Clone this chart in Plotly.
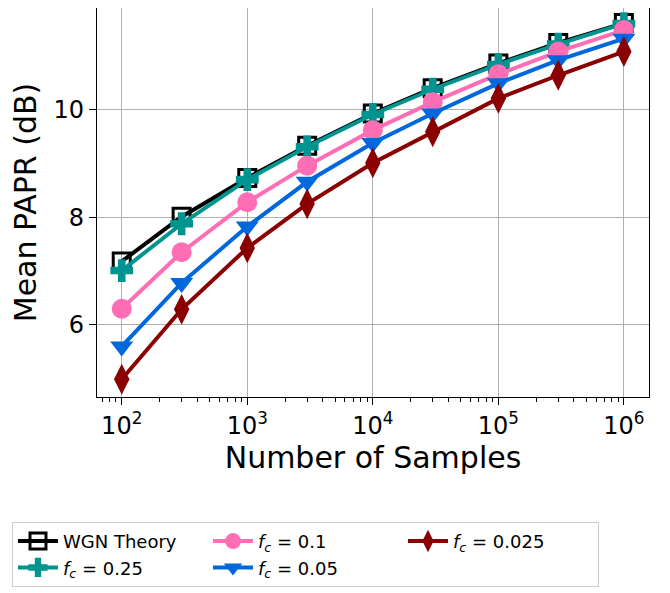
import plotly.graph_objects as go

samples = [100, 300, 1000, 3000, 10000, 30000, 100000, 300000, 1000000]
wgn = [7.18, 8.01, 8.73, 9.33, 9.93, 10.40, 10.86, 11.24, 11.61]
fc_025 = [7.01, 7.88, 8.70, 9.31, 9.91, 10.38, 10.84, 11.22, 11.60]
fc_01 = [6.30, 7.35, 8.28, 8.96, 9.62, 10.14, 10.66, 11.08, 11.48]
fc_005 = [5.60, 6.78, 7.83, 8.66, 9.38, 9.93, 10.49, 10.92, 11.32]
fc_0025 = [4.99, 6.29, 7.43, 8.25, 9.01, 9.59, 10.21, 10.64, 11.08]

xtick_vals = [100, 1000, 10000, 100000, 1000000]
xtick_text = ["10<sup>2</sup>", "10<sup>3</sup>", "10<sup>4</sup>", "10<sup>5</sup>", "10<sup>6</sup>"]
ytick_vals = [6, 8, 10]

minor_vals = [m * 10 ** e for e in range(1, 7) for m in range(2, 10)]

series = [
    ("WGN Theory", wgn, "black", "square-open", 17, 1),
    ("<i>f<sub>c</sub></i> = 0.25", fc_025, "#009490", "cross", 19, 4),
    ("<i>f<sub>c</sub></i> = 0.1", fc_01, "#ff6eb4", "circle", 20, 2),
    ("<i>f<sub>c</sub></i> = 0.05", fc_005, "#0068dc", "triangle-down", 20, 5),
    ("<i>f<sub>c</sub></i> = 0.025", fc_0025, "#8b0000", "diamond-tall", 22, 3),
]

fig = go.Figure()
for name, ys, color, sym, size, rank in series:
    marker = dict(symbol=sym, size=size, color=color)
    if sym == "square-open":
        marker["line"] = dict(width=3, color=color)
    fig.add_trace(go.Scatter(
        x=samples, y=ys, name=name, mode="lines+markers",
        line=dict(color=color, width=4), marker=marker, legendrank=rank,
    ))

axis_common = dict(
    showline=True, linecolor="black", linewidth=1.2, mirror=True,
    ticks="outside", ticklen=7, tickwidth=1.2, tickcolor="black",
    showgrid=True, gridcolor="#b0b0b0", gridwidth=1, zeroline=False,
    tickfont=dict(size=24, color="black", family="DejaVu Sans"),
    automargin=False,
)

fig.update_xaxes(
    type="log", range=[1.803, 6.2], tickvals=xtick_vals, ticktext=xtick_text,
    minor=dict(tickvals=minor_vals, ticks="outside", ticklen=4, tickcolor="black", showgrid=False),
    title=dict(text="Number of Samples", font=dict(size=30, color="black", family="DejaVu Sans"), standoff=8),
    **axis_common,
)
fig.update_yaxes(
    range=[4.66, 11.89], tickvals=ytick_vals,
    title=dict(text="Mean PAPR (dB)", font=dict(size=30, color="black", family="DejaVu Sans"), standoff=10),
    **axis_common,
)

fig.update_layout(
    width=662, height=585,
    margin=dict(l=89, r=21, t=0, b=196, autoexpand=False),
    plot_bgcolor="white", paper_bgcolor="white",
    font=dict(family="DejaVu Sans", color="black"),
    legend=dict(
        orientation="h", x=-0.154, y=-0.321, xanchor="left", yanchor="top",
        font=dict(size=18, family="DejaVu Sans", color="black"),
        bordercolor="#cccccc", borderwidth=1, bgcolor="white",
        entrywidth=140, entrywidthmode="pixels", itemwidth=40,
        tracegroupgap=0,
    ),
)

fig.write_html("out.html")
